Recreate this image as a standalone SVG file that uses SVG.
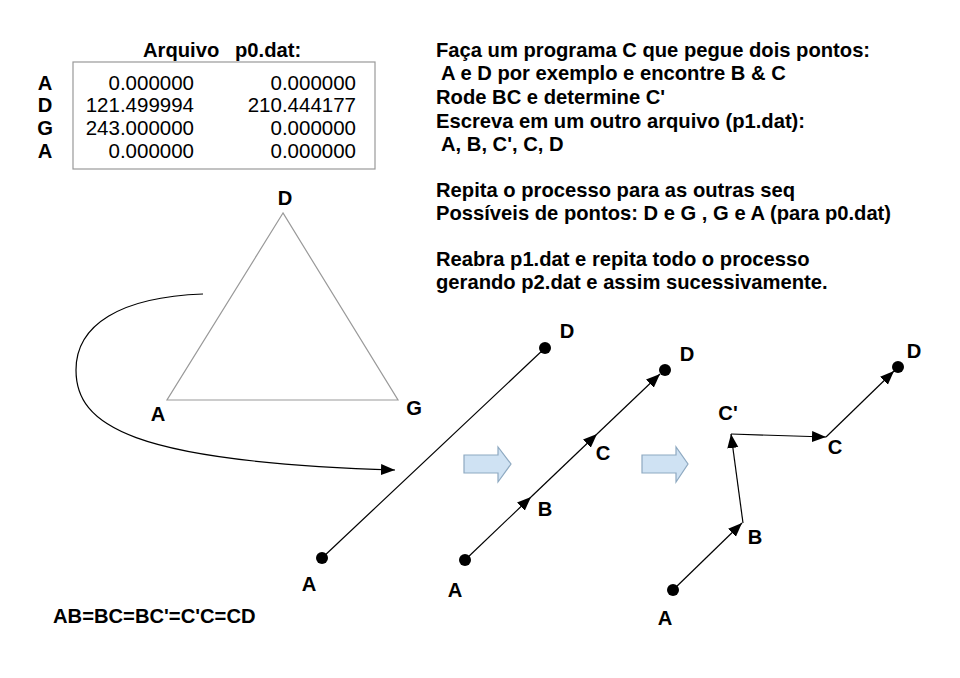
<svg xmlns="http://www.w3.org/2000/svg" width="960" height="678" viewBox="0 0 960 678">
<style>
text{font-family:"Liberation Sans",Arial,sans-serif;fill:#000}
.b{font-weight:bold;font-size:20.2px}
.n{font-size:20.5px}
.ln{stroke:#000;stroke-width:1.2;fill:none}
.dot{fill:#000}
.blue{fill:#cfe2f3;stroke:#8ea9c1;stroke-width:1.2}
</style>
<defs>
<marker id="ah" viewBox="0 0 10 10" refX="10" refY="5" markerWidth="14" markerHeight="14" markerUnits="userSpaceOnUse" orient="auto">
<path d="M0,1 L10,5 L0,9 Z" fill="#000"/>
</marker>
</defs>
<rect width="960" height="678" fill="#fff"/>

<g id="table">
<text class="b" x="143" y="57">Arquivo</text>
<text class="b" x="235" y="57">p0.dat:</text>
<rect x="73" y="62" width="302" height="107" fill="none" stroke="#999" stroke-width="1.2"/>
<text class="b" x="45" y="90" text-anchor="middle">A</text>
<text class="b" x="45" y="112" text-anchor="middle">D</text>
<text class="b" x="45" y="135" text-anchor="middle">G</text>
<text class="b" x="45" y="158" text-anchor="middle">A</text>
<g text-anchor="end">
<text class="n" x="194" y="90">0.000000</text>
<text class="n" x="194" y="112">121.499994</text>
<text class="n" x="194" y="135">243.000000</text>
<text class="n" x="194" y="158">0.000000</text>
<text class="n" x="356" y="90">0.000000</text>
<text class="n" x="356" y="112">210.444177</text>
<text class="n" x="356" y="135">0.000000</text>
<text class="n" x="356" y="158">0.000000</text>
</g>
</g>

<g id="instructions">
<text class="b" x="436" y="57">Faça um programa C que pegue dois pontos:</text>
<text class="b" x="441" y="80">A e D por exemplo e encontre B &amp; C</text>
<text class="b" x="436" y="104">Rode BC e determine C'</text>
<text class="b" x="436" y="128">Escreva em um outro arquivo (p1.dat):</text>
<text class="b" x="441" y="151">A, B, C', C, D</text>
<text class="b" x="436" y="197">Repita o processo para as outras seq</text>
<text class="b" x="436" y="220">Possíveis de pontos: D e G , G e A (para p0.dat)</text>
<text class="b" x="436" y="266">Reabra p1.dat e repita todo o processo</text>
<text class="b" x="436" y="289">gerando p2.dat e assim sucessivamente.</text>
</g>

<g id="triangle">
<polygon points="283,213 167,400 398,400" fill="none" stroke="#999" stroke-width="1.2"/>
<text class="b" x="285" y="205" text-anchor="middle">D</text>
<text class="b" x="158" y="421" text-anchor="middle">A</text>
<text class="b" x="414" y="415" text-anchor="middle">G</text>
</g>

<g id="connectors">
<path class="ln" d="M203,294 C120,297 76,325 76,370 C76,425 130,462 395,470" marker-end="url(#ah)"/>
<line class="ln" x1="322" y1="558" x2="545" y2="348"/>
<path class="ln" d="M465,560 L531,497" marker-end="url(#ah)"/>
<path class="ln" d="M531,497 L597,434" marker-end="url(#ah)"/>
<path class="ln" d="M597,434 L660,374" marker-end="url(#ah)"/>
<path class="ln" d="M673,590 L742,523" marker-end="url(#ah)"/>
<path class="ln" d="M743,523 L731,434" marker-end="url(#ah)"/>
<path class="ln" d="M731,434 L826,437" marker-end="url(#ah)"/>
<path class="ln" d="M826,437 L894,371" marker-end="url(#ah)"/>
</g>

<g id="line1">
<circle class="dot" cx="322" cy="558" r="6"/>
<circle class="dot" cx="545" cy="348" r="6"/>
<text class="b" x="567" y="338" text-anchor="middle">D</text>
<text class="b" x="309" y="591" text-anchor="middle">A</text>
</g>

<g id="arrow1">
<path class="blue" d="M464,455 L498,455 L498,447 L511,464 L498,482 L498,473 L464,473 Z"/>
</g>

<g id="line2">
<circle class="dot" cx="465" cy="560" r="6"/>
<circle class="dot" cx="665" cy="370" r="6"/>
<text class="b" x="545" y="516" text-anchor="middle">B</text>
<text class="b" x="603" y="460" text-anchor="middle">C</text>
<text class="b" x="687" y="361" text-anchor="middle">D</text>
<text class="b" x="455" y="597" text-anchor="middle">A</text>
</g>

<g id="arrow2">
<path class="blue" d="M642,455 L676,455 L676,447 L688,464 L676,482 L676,473 L642,473 Z"/>
</g>

<g id="line3">
<circle class="dot" cx="673" cy="590" r="6"/>
<circle class="dot" cx="898" cy="367" r="6"/>
<text class="b" x="755" y="544" text-anchor="middle">B</text>
<text class="b" x="728" y="420" text-anchor="middle">C'</text>
<text class="b" x="835" y="454" text-anchor="middle">C</text>
<text class="b" x="914" y="358" text-anchor="middle">D</text>
<text class="b" x="665" y="625" text-anchor="middle">A</text>
</g>

<g id="equation">
<text class="b" x="53" y="623">AB=BC=BC'=C'C=CD</text>
</g>
</svg>
